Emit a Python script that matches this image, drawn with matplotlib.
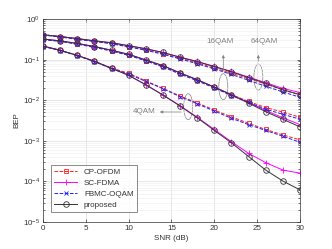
import numpy as np
import matplotlib
matplotlib.use("Agg")
import matplotlib.pyplot as plt
from matplotlib.patches import Ellipse

plt.rcParams['font.family'] = ['Liberation Sans', 'DejaVu Sans']
plt.rcParams['mathtext.fontset'] = 'custom'
plt.rcParams['mathtext.rm'] = 'Liberation Sans'

snr = list(range(0, 31, 2))

# 64QAM
cp_64 = [0.41, 0.37, 0.32, 0.285, 0.25, 0.21, 0.175, 0.14, 0.108, 0.083, 0.062, 0.046, 0.034, 0.025, 0.018, 0.0135]
sc_64 = [0.41, 0.37, 0.33, 0.29, 0.26, 0.22, 0.185, 0.15, 0.115, 0.09, 0.068, 0.051, 0.037, 0.027, 0.0195, 0.0155]
fb_64 = [0.40, 0.36, 0.315, 0.28, 0.245, 0.205, 0.17, 0.135, 0.104, 0.079, 0.059, 0.043, 0.031, 0.022, 0.016, 0.0118]
pr_64 = [0.41, 0.37, 0.33, 0.29, 0.26, 0.22, 0.185, 0.15, 0.114, 0.089, 0.067, 0.050, 0.036, 0.026, 0.018, 0.0138]
# 16QAM
cp_16 = [0.32, 0.285, 0.245, 0.205, 0.165, 0.13, 0.095, 0.068, 0.046, 0.031, 0.021, 0.0138, 0.0093, 0.0066, 0.0051, 0.0038]
sc_16 = [0.32, 0.29, 0.25, 0.21, 0.17, 0.135, 0.098, 0.071, 0.047, 0.032, 0.021, 0.0137, 0.0088, 0.0056, 0.0037, 0.0025]
fb_16 = [0.31, 0.28, 0.24, 0.2, 0.162, 0.127, 0.093, 0.066, 0.044, 0.03, 0.02, 0.013, 0.0088, 0.006, 0.0045, 0.0034]
pr_16 = [0.32, 0.29, 0.25, 0.21, 0.17, 0.135, 0.098, 0.071, 0.047, 0.032, 0.021, 0.0135, 0.0085, 0.0052, 0.0034, 0.0022]
# 4QAM
cp_4 = [0.216, 0.17, 0.127, 0.091, 0.062, 0.046, 0.030, 0.0196, 0.0127, 0.0086, 0.0057, 0.0039, 0.0027, 0.0019, 0.0014, 0.00105]
sc_4 = [0.216, 0.17, 0.127, 0.091, 0.061, 0.041, 0.024, 0.0135, 0.0073, 0.0038, 0.0019, 0.00095, 0.00049, 0.00029, 0.00019, 0.00016]
fb_4 = [0.21, 0.167, 0.125, 0.089, 0.06, 0.044, 0.029, 0.0192, 0.0122, 0.0082, 0.0054, 0.0036, 0.0025, 0.0018, 0.0013, 0.00092]
pr_4 = [0.216, 0.17, 0.127, 0.091, 0.061, 0.041, 0.024, 0.0134, 0.0072, 0.0037, 0.0018, 0.00089, 0.00041, 0.00019, 0.000102, 0.000062]

labels = ['CP-OFDM', 'SC-FDMA', 'FBMC-OQAM', 'proposed']
xticks = [0, 5, 10, 15, 20, 25, 30]

fig = plt.figure(figsize=(3.32, 2.49), dpi=100)
ax = fig.add_axes([0.1295, 0.1084, 0.7741, 0.8153])

styles = [
    dict(color='#FF2020', ls='--', marker='s', ms=3.5, mfc='none', mew=0.6, lw=0.7),
    dict(color='#FF00FF', ls='-', marker='+', ms=4.2, mew=0.6, lw=0.7),
    dict(color='#2020FF', ls='--', marker='x', ms=3.4, mew=0.6, lw=0.7),
    dict(color='#333333', ls='-', marker='o', ms=4.0, mfc='none', mew=0.6, lw=0.7),
]
groups = [
    (cp_4, cp_16, cp_64),
    (sc_4, sc_16, sc_64),
    (fb_4, fb_16, fb_64),
    (pr_4, pr_16, pr_64),
]
for lab, st, grp in zip(labels, styles, groups):
    for i, series in enumerate(grp):
        ax.semilogy(snr, series, label=lab if i == 0 else None, **st)

fs = 5.8
ax.set_xlim(0, 30)
ax.set_ylim(1e-5, 1)
ax.set_xticks(xticks)
ax.set_xticklabels([str(t) for t in xticks])
ax.set_xlabel('SNR (dB)', fontsize=fs, color='#333333', labelpad=2)
ax.set_ylabel('BEP', fontsize=fs, color='#333333', labelpad=2)
ax.tick_params(which='both', direction='in', top=True, right=True, labelsize=fs,
               colors='#333333', width=0.5)
ax.tick_params(which='major', length=2.5, pad=2)
ax.tick_params(which='minor', length=1.5)
ax.grid(True, which='major', color='#DDDDDD', lw=0.5)
ax.grid(True, which='minor', axis='y', color='#EEEEEE', lw=0.4)
for s in ax.spines.values():
    s.set_linewidth(0.5)
    s.set_color('#333333')

leg = ax.legend(loc='lower left', fontsize=fs, frameon=True, fancybox=False,
                edgecolor='#333333', handlelength=2.9, labelspacing=0.4,
                borderpad=0.4, bbox_to_anchor=(0.015, 0.03))
leg.get_frame().set_linewidth(0.5)
for t in leg.get_texts():
    t.set_color('#333333')

gc = '#808080'
for (cx, cy) in [(0.565, 0.568), (0.7016, 0.6665), (0.838, 0.714)]:
    ax.add_patch(Ellipse((cx, cy), 0.035, 0.128, transform=ax.transAxes,
                         fill=False, edgecolor=gc, lw=0.5))
ax.annotate('', xy=(0.444, 0.542), xytext=(0.548, 0.542), xycoords='axes fraction',
            arrowprops=dict(arrowstyle='-|>', color=gc, lw=0.5, mutation_scale=4))
ax.text(0.438, 0.542, '4QAM', transform=ax.transAxes, ha='right', va='center',
        fontsize=fs, color=gc)
ax.annotate('', xy=(0.7016, 0.837), xytext=(0.7016, 0.730), xycoords='axes fraction',
            arrowprops=dict(arrowstyle='-|>', color=gc, lw=0.5, mutation_scale=4))
ax.text(0.689, 0.887, '16QAM', transform=ax.transAxes, ha='center', va='center',
        fontsize=fs, color=gc)
ax.annotate('', xy=(0.838, 0.837), xytext=(0.838, 0.778), xycoords='axes fraction',
            arrowprops=dict(arrowstyle='-|>', color=gc, lw=0.5, mutation_scale=4))
ax.text(0.86, 0.887, '64QAM', transform=ax.transAxes, ha='center', va='center',
        fontsize=fs, color=gc)

fig.savefig('out.png', dpi=100)
